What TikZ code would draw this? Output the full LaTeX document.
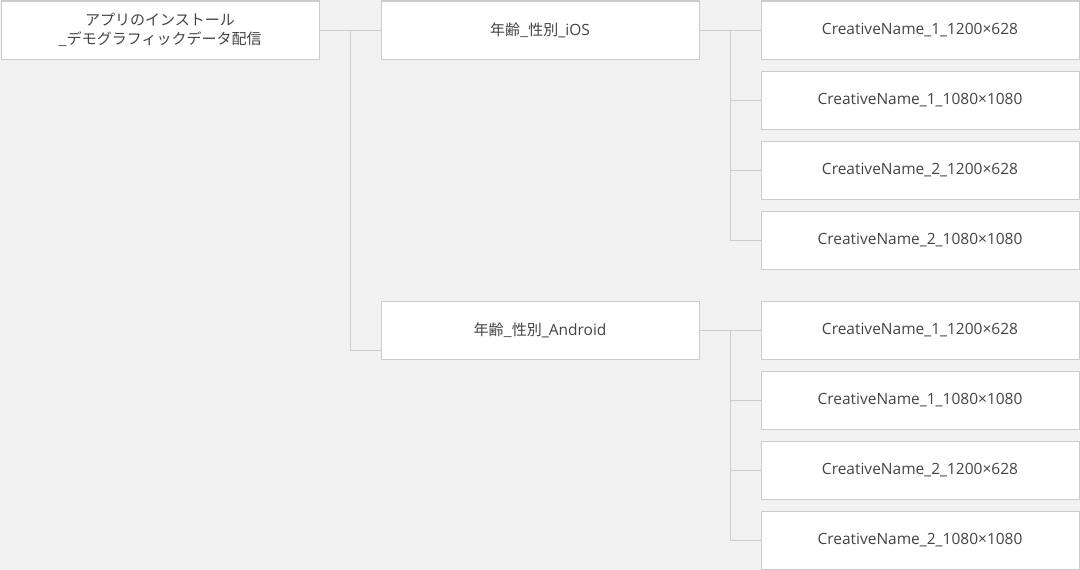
\documentclass[tikz,border=0pt]{standalone}
\usepackage{fontspec}
\setmainfont{Open Sans}
\newfontfamily\jp{Noto Sans CJK JP}
\usetikzlibrary{positioning}
\definecolor{bg}{HTML}{F2F2F2}
\definecolor{edge}{HTML}{CCCCCC}
\definecolor{txt}{HTML}{444444}

\begin{document}
\begin{tikzpicture}[x=1pt,y=-1pt]
    \tikzstyle{b}=[rectangle,draw=edge,fill=white,line width=1pt,align=center,minimum width=318pt,minimum height=58pt,inner sep=0pt,text=txt,font=\fontsize{15.5}{19}\selectfont]
    \tikzstyle{l}=[draw=edge,line width=1pt]
    \fill[bg] (0,0) rectangle (1080,570);
    \node[b,font=\jp\fontsize{15}{19}\selectfont] (app) at (160,30) {アプリのインストール\\\_デモグラフィックデータ配信};
    \node[b] (ios) at (540,30) {{\jp\fontsize{15}{19}\selectfont 年齢\_性別}\_iOS};
    \node[b] (andr) at (540,330) {{\jp\fontsize{15}{19}\selectfont 年齢\_性別}\_Android};
    \node[b] (i1) at (920,30) {CreativeName\_1\_1200×628};
    \node[b] (i2) at (920,100) {CreativeName\_1\_1080×1080};
    \node[b] (i3) at (920,170) {CreativeName\_2\_1200×628};
    \node[b] (i4) at (920,240) {CreativeName\_2\_1080×1080};
    \node[b] (a1) at (920,330) {CreativeName\_1\_1200×628};
    \node[b] (a2) at (920,400) {CreativeName\_1\_1080×1080};
    \node[b] (a3) at (920,470) {CreativeName\_2\_1200×628};
    \node[b] (a4) at (920,540) {CreativeName\_2\_1080×1080};
    % tree lines
    \draw[l] (app.east) -- (ios.west);
    \draw[l] (350,30) |- ([yshift=-20pt]andr.west);
    \draw[l] (ios.east) -- (i1.west);
    \draw[l] (730,30) |- (i4.west);
    \foreach \n in {i2,i3} \draw[l] (730,0 |- \n.west) -- (\n.west);
    \draw[l] (andr.east) -- (a1.west);
    \draw[l] (730,330) |- (a4.west);
    \foreach \n in {a2,a3} \draw[l] (730,0 |- \n.west) -- (\n.west);
\end{tikzpicture}
\end{document}
